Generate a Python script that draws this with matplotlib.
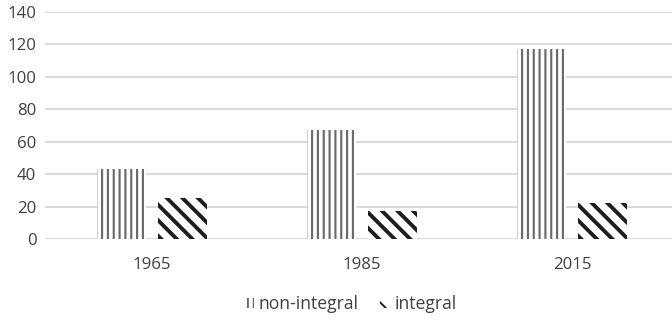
import matplotlib
matplotlib.use("Agg")
import matplotlib.pyplot as plt
import numpy as np

years = ["1965", "1985", "2015"]
non_integral = [43, 67, 117]
integral = [25, 17, 22]
yticks = [0, 20, 40, 60, 80, 100, 120, 140]

plt.rcParams['font.family'] = ['Open Sans', 'DejaVu Sans']

DPI = 140
fig = plt.figure(figsize=(672 / DPI, 321 / DPI), dpi=DPI)
ax = fig.add_axes([45 / 672, 82 / 321, 1 - 45 / 672, (239 - 12) / 321])

x = np.arange(len(years))
w = 0.232
off = 0.145

with plt.rc_context({'hatch.linewidth': 1.1}):
    b1 = ax.bar(x - off, non_integral, w, color='white', edgecolor='#6a6a6a',
                hatch='||||', linewidth=0, label='non-integral', zorder=3)
with plt.rc_context({'hatch.linewidth': 2.0}):
    b2 = ax.bar(x + off, integral, w, color='white', edgecolor='#1e1e1e',
                hatch='\\\\\\', linewidth=0, label='integral', zorder=3)

ax.set_xlim(-0.51, 2.476)
ax.set_ylim(0, 140)
ax.set_yticks(yticks)
ax.set_xticks(x)
ax.set_xticklabels(years)
ax.grid(axis='y', color='#d9d9d9', linewidth=1.0, zorder=0)
for s in ax.spines.values():
    s.set_visible(False)
ax.tick_params(axis='both', length=0, labelsize=8.6, colors='#404040')
ax.tick_params(axis='y', pad=4.5)
ax.tick_params(axis='x', pad=9.5)

leg = fig.legend(handles=[b1, b2], labels=['non-integral', 'integral'],
                 loc='center', bbox_to_anchor=(350.5 / 672, 1 - 304 / 321), ncol=2,
                 frameon=False, fontsize=9.0, handlelength=0.55, handleheight=0.55,
                 handletextpad=0.3, columnspacing=1.2, labelcolor='#404040')

fig.savefig('out.png', dpi=DPI)
